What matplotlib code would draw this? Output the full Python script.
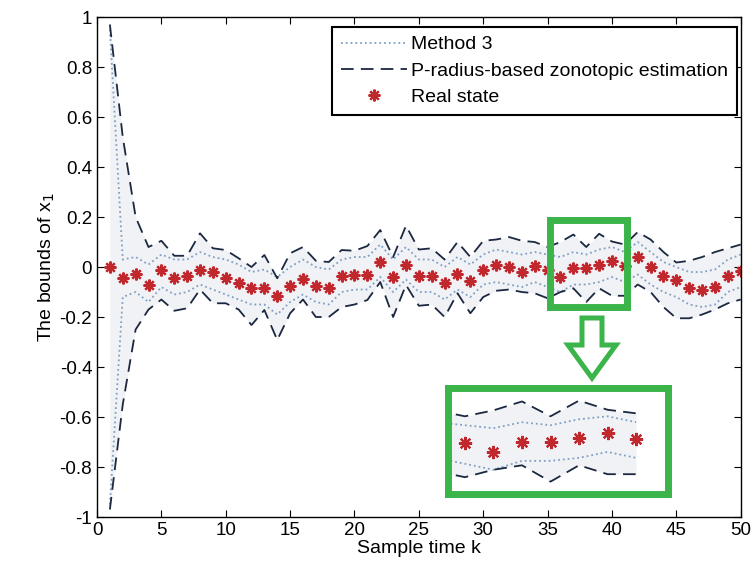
import numpy as np
import matplotlib
matplotlib.use("Agg")
import matplotlib.pyplot as plt
from matplotlib.patches import Rectangle, Polygon

plt.rcParams['font.family'] = ['Liberation Sans', 'DejaVu Sans']

k = np.arange(1, 51)

real_state = [0.0, -0.045, -0.028, -0.072, -0.012, -0.045, -0.036, -0.01, -0.02, -0.045,
              -0.063, -0.085, -0.085, -0.116, -0.076, -0.049, -0.076, -0.085, -0.036, -0.03,
              -0.03, 0.02, -0.039, 0.008, -0.036, -0.036, -0.065, -0.028, -0.055, -0.01,
              0.008, 0.0, -0.019, 0.004, -0.01, -0.039, -0.005, -0.005, 0.008, 0.025,
              0.004, 0.039, 0.0, -0.036, -0.052, -0.085, -0.09, -0.081, -0.036, -0.015]

pr_upper = [0.97, 0.52, 0.2, 0.08, 0.105, 0.045, 0.045, 0.135, 0.075, 0.068,
            0.035, 0.0, 0.048, -0.045, 0.055, 0.08, 0.025, 0.02, 0.068, 0.065,
            0.084, 0.148, 0.04, 0.165, 0.07, 0.075, 0.03, 0.1, 0.04, 0.105,
            0.11, 0.12, 0.105, 0.1, 0.08, 0.1, 0.13, 0.08, 0.133, 0.102,
            0.09, 0.14, 0.11, 0.06, 0.018, 0.025, 0.04, 0.06, 0.075, 0.09]

pr_lower = [-0.97, -0.55, -0.25, -0.17, -0.13, -0.175, -0.165, -0.09, -0.145, -0.145,
            -0.17, -0.232, -0.172, -0.292, -0.185, -0.13, -0.2, -0.2, -0.16, -0.15,
            -0.132, -0.06, -0.2, -0.072, -0.155, -0.15, -0.2, -0.105, -0.185, -0.12,
            -0.095, -0.09, -0.1, -0.105, -0.125, -0.1, -0.085, -0.14, -0.085, -0.115,
            -0.115, -0.07, -0.1, -0.16, -0.205, -0.205, -0.19, -0.17, -0.145, -0.13]

m3_upper = [0.95, 0.03, 0.04, 0.01, 0.05, 0.03, 0.03, 0.06, 0.04, 0.03,
            0.01, -0.02, -0.01, -0.04, 0.0, 0.03, 0.0, -0.01, 0.03, 0.04,
            0.04, 0.09, 0.03, 0.08, 0.03, 0.03, 0.0, 0.04, 0.01, 0.05,
            0.07, 0.06, 0.05, 0.06, 0.05, 0.04, 0.06, 0.05, 0.07, 0.08,
            0.06, 0.1, 0.06, 0.02, 0.0, -0.02, -0.02, -0.01, 0.03, 0.05]

m3_lower = [-0.95, -0.12, -0.1, -0.14, -0.08, -0.11, -0.1, -0.07, -0.09, -0.11,
            -0.13, -0.15, -0.15, -0.19, -0.14, -0.11, -0.14, -0.15, -0.1, -0.09,
            -0.09, -0.04, -0.1, -0.05, -0.1, -0.1, -0.13, -0.09, -0.12, -0.07,
            -0.06, -0.07, -0.08, -0.06, -0.08, -0.1, -0.07, -0.07, -0.06, -0.04,
            -0.06, -0.03, -0.07, -0.1, -0.12, -0.15, -0.16, -0.15, -0.1, -0.08]

xticks = list(range(0, 51, 5))
yticks = [-1, -0.8, -0.6, -0.4, -0.2, 0, 0.2, 0.4, 0.6, 0.8, 1]
ytick_labels = ['-1', '-0.8', '-0.6', '-0.4', '-0.2', '0', '0.2', '0.4', '0.6', '0.8', '1']

blue = '#7f9fc4'
navy = '#1b2840'
red = '#c0282d'
green = '#3bb54a'
star = (8, 2, 0)


def draw_series(ax, idx, ms, with_labels):
    kk = k[idx]
    ax.fill_between(kk, np.array(pr_lower)[idx], np.array(pr_upper)[idx],
                    color='#f0f2f5', lw=0, zorder=0)
    ax.plot(kk, np.array(m3_upper)[idx], ls=':', color=blue, lw=1.3,
            label='Method 3' if with_labels else None)
    ax.plot(kk, np.array(m3_lower)[idx], ls=':', color=blue, lw=1.3)
    ax.plot(kk, np.array(pr_upper)[idx], ls=(0, (7, 4)), color=navy, lw=1.3,
            label='P-radius-based zonotopic estimation' if with_labels else None)
    ax.plot(kk, np.array(pr_lower)[idx], ls=(0, (7, 4)), color=navy, lw=1.3)
    ax.plot(kk, np.array(real_state)[idx], ls='none', marker=star, ms=ms,
            mew=1.6, color=red, label='Real state' if with_labels else None)


fig = plt.figure(figsize=(7.52, 5.74), dpi=100)
ax = fig.add_axes([0.129, 0.0993, 0.856, 0.871])

draw_series(ax, slice(0, 50), 8.5, True)

ax.set_xlim(0, 50)
ax.set_ylim(-1, 1)
ax.set_xticks(xticks)
ax.set_yticks(yticks)
ax.set_yticklabels(ytick_labels)
ax.tick_params(direction='in', top=True, right=True, length=5, labelsize=13.5)
ax.set_xlabel('Sample time k', fontsize=14, labelpad=1)
ax.set_ylabel('The bounds of x$_1$', fontsize=14, labelpad=2)
for s in ax.spines.values():
    s.set_linewidth(1.0)

leg = ax.legend(loc='upper right', bbox_to_anchor=(0.994, 0.98), borderaxespad=0,
                fontsize=14, handlelength=3.4, handletextpad=0.2, labelspacing=0.45,
                fancybox=False, framealpha=1, edgecolor='black', borderpad=0.45)
leg.get_frame().set_linewidth(1.5)

# zoom box on the main axes
ax.add_patch(Rectangle((35.2, -0.158), 5.95, 0.348, fill=False, ec=green,
                       lw=5, zorder=5))

# hollow arrow pointing to the inset
W, H = 752, 574
arrow_px = [(582, 318), (602, 318), (602, 345), (616, 345), (592, 378),
            (568, 345), (582, 345)]
arrow = Polygon([(x / W, 1 - y / H) for x, y in arrow_px], closed=True,
                fc='white', ec=green, lw=3.6, transform=fig.transFigure)
fig.patches.append(arrow)

# inset
axin = fig.add_axes([447.5 / W, 1 - 493.5 / H, 220 / W, 106 / H])
draw_series(axin, slice(33, 41), 9.5, False)
axin.set_xlim(34.39, 42.1)
axin.set_ylim(-0.18, 0.177)
axin.set_xticks([])
axin.set_yticks([])
for s in axin.spines.values():
    s.set_color(green)
    s.set_linewidth(5)

fig.savefig('out.png', dpi=100)
